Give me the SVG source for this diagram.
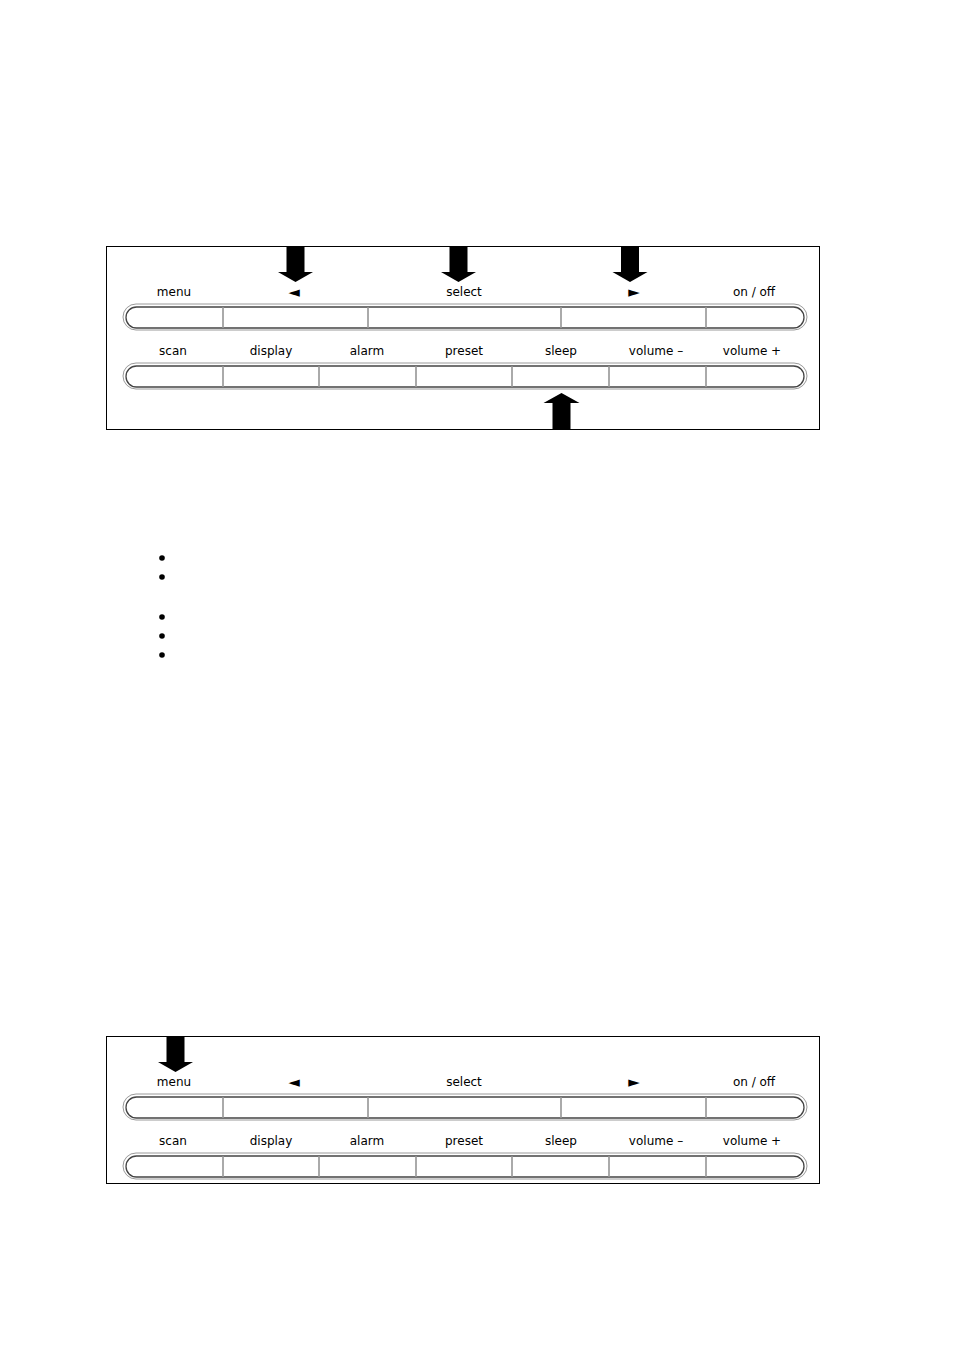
<svg xmlns="http://www.w3.org/2000/svg" width="954" height="1351" viewBox="0 0 954 1351">
<style>
.frame{fill:none;stroke:#000;stroke-width:1}
.po{fill:none;stroke:#9a9a9a;stroke-width:1}
.pi{fill:#fff;stroke:#444;stroke-width:1.3}
.dv{stroke:#aaa;stroke-width:2}
.lb{font-family:"DejaVu Sans",Verdana,sans-serif;font-size:12px;fill:#000;text-anchor:middle}
.tri{font-size:15px}
.ar{fill:#000}
.bul{fill:#000}
</style>
<defs>
<g id="panel">
<rect x="123" y="304" width="684" height="26" rx="13" class="po"/>
<rect x="126" y="307" width="678" height="21" rx="10.5" class="pi"/>
<line x1="223" y1="307.5" x2="223" y2="327.5" class="dv"/>
<line x1="368" y1="307.5" x2="368" y2="327.5" class="dv"/>
<line x1="561" y1="307.5" x2="561" y2="327.5" class="dv"/>
<line x1="706" y1="307.5" x2="706" y2="327.5" class="dv"/>
<text x="174" y="296" class="lb">menu</text>
<text x="294" y="297" class="lb tri">◄</text>
<text x="464" y="296" class="lb">select</text>
<text x="634" y="297" class="lb tri">►</text>
<text x="754" y="296" class="lb">on / off</text>
<rect x="123" y="363" width="684" height="26" rx="13" class="po"/>
<rect x="126" y="366" width="678" height="21" rx="10.5" class="pi"/>
<line x1="223" y1="366.5" x2="223" y2="386.5" class="dv"/>
<line x1="319" y1="366.5" x2="319" y2="386.5" class="dv"/>
<line x1="416" y1="366.5" x2="416" y2="386.5" class="dv"/>
<line x1="512" y1="366.5" x2="512" y2="386.5" class="dv"/>
<line x1="609" y1="366.5" x2="609" y2="386.5" class="dv"/>
<line x1="706" y1="366.5" x2="706" y2="386.5" class="dv"/>
<text x="173" y="355" class="lb">scan</text>
<text x="271" y="355" class="lb">display</text>
<text x="367" y="355" class="lb">alarm</text>
<text x="464" y="355" class="lb">preset</text>
<text x="561" y="355" class="lb">sleep</text>
<text x="656" y="355" class="lb">volume –</text>
<text x="752" y="355" class="lb">volume +</text>
</g>
<path id="down" d="M-9,0 H9 V26 H17.5 L0,36 L-17.5,26 H-9 Z"/>
</defs>
<g id="panel1">
<rect x="106.5" y="246.5" width="713" height="183" class="frame"/>
<use href="#panel"/>
</g>
<g id="arrows1">
<use href="#down" x="295.5" y="246" class="ar"/>
<use href="#down" x="458.5" y="246" class="ar"/>
<use href="#down" x="630" y="246" class="ar"/>
<path d="M552.5,429 V403 H543.5 L561.5,393 L579.5,403 H570.5 V429 Z" class="ar"/>
</g>
<g id="bullets">
<circle cx="162" cy="558" r="2.8" class="bul"/>
<circle cx="162" cy="577" r="2.8" class="bul"/>
<circle cx="162" cy="617" r="2.8" class="bul"/>
<circle cx="162" cy="636" r="2.8" class="bul"/>
<circle cx="162" cy="655" r="2.8" class="bul"/>
</g>
<g id="panel2">
<rect x="106.5" y="1036.5" width="713" height="147" class="frame"/>
<use href="#panel" y="790"/>
</g>
<g id="arrows2">
<use href="#down" x="175.5" y="1036" class="ar"/>
</g>
</svg>
